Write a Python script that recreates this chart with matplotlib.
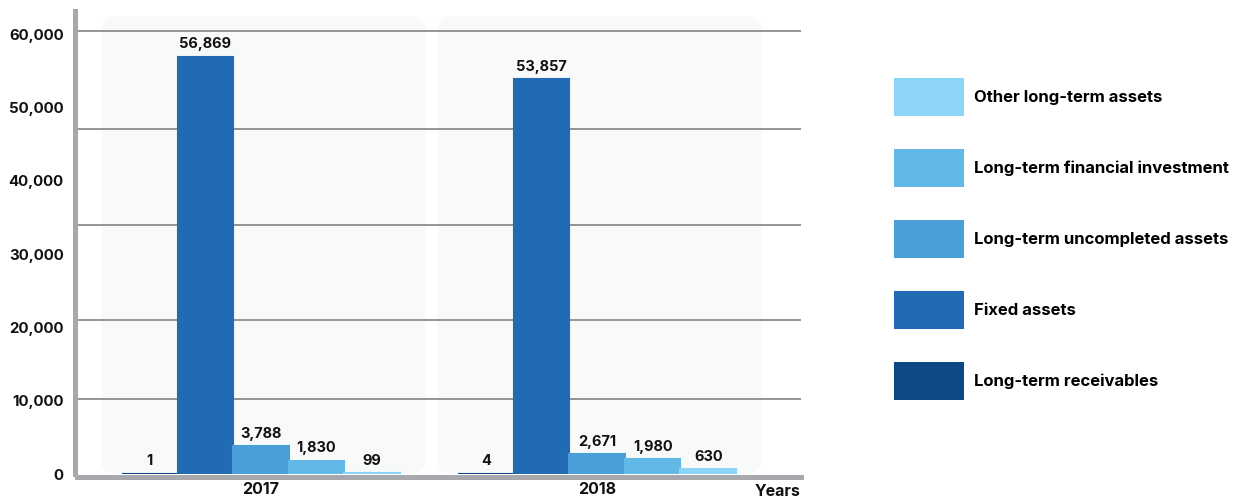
import matplotlib
matplotlib.use("Agg")
import matplotlib.pyplot as plt
from matplotlib.patches import FancyBboxPatch, Patch
from matplotlib.ticker import FuncFormatter

# ---- data -------------------------------------------------------------
years = ["2017", "2018"]
series_names = [
    "Long-term receivables",
    "Fixed assets",
    "Long-term uncompleted assets",
    "Long-term financial investment",
    "Other long-term assets",
]
receivables = [1, 4]
fixed_assets = [56869, 53857]
uncompleted_assets = [3788, 2671]
financial_investment = [1830, 1980]
other_assets = [99, 630]
y_ticks = [0, 10000, 20000, 30000, 40000, 50000, 60000]

# ---- style ------------------------------------------------------------
colors = ["#0e4887", "#216ab4", "#4b9fd8", "#62b8e7", "#8cd5f6"]
axis_grey = "#a7a8ab"
grid_grey = "#8d8d8d"
panel_color = "#f8f9f9"
text_color = "#111111"
font = ["Inter", "DejaVu Sans"]
plt.rcParams["font.family"] = font
plt.rcParams["font.weight"] = "bold"

W, H = 1242, 499
fig = plt.figure(figsize=(W / 100, H / 100), dpi=100)
ax = fig.add_axes([77.2 / W, (H - 474) / H, (801 - 77.2) / W, (474 - 11) / H])

series = [receivables, fixed_assets, uncompleted_assets, financial_investment, other_assets]
bar_w = 0.1655
n = len(series)
group_x = list(range(len(years)))

ax.set_xlim(-0.547, 1.607)
ax.set_ylim(0, 63150)

# rounded background panels behind each year group
fig.canvas.draw()
px_x = ax.transData.transform((1, 0))[0] - ax.transData.transform((0, 0))[0]
px_y = ax.transData.transform((0, 1))[1] - ax.transData.transform((0, 0))[1]
aspect = px_x / px_y
radius = 15 / px_x
for gx in group_x:
    left, right = gx - 0.475, gx + 0.49
    ax.add_patch(FancyBboxPatch((left, 0), right - left, 62400,
                                boxstyle=f"round,pad=0,rounding_size={radius}",
                                mutation_aspect=aspect, facecolor=panel_color,
                                edgecolor="none", zorder=0.5))

# decorative horizontal rules
for gy in [10200, 21000, 34000, 47000, 60400]:
    ax.axhline(gy, color=grid_grey, lw=1.3, zorder=1)

for i, (vals, color) in enumerate(zip(series, colors)):
    xs = [g + (i - (n - 1) / 2) * bar_w for g in group_x]
    ax.bar(xs, vals, width=bar_w, color=color, edgecolor=color,
           linewidth=1.5, zorder=2)
    for x, v in zip(xs, vals):
        ax.annotate(f"{v:,}", (x, v), xytext=(0, 4), textcoords="offset points",
                    ha="center", va="bottom", fontsize=10.5, fontweight="bold",
                    color=text_color, zorder=3)

# axes styling
for side in ["top", "right"]:
    ax.spines[side].set_visible(False)
for side in ["left", "bottom"]:
    sp = ax.spines[side]
    sp.set_color(axis_grey)
    sp.set_linewidth(3.6)
    sp.set_position(("outward", 1.8))
    sp.set_capstyle("projecting")
    sp.set_zorder(1.8)

ax.set_yticks(y_ticks)
ax.yaxis.set_major_formatter(FuncFormatter(lambda v, p: f"{int(v):,}"))
ax.set_xticks(group_x)
ax.set_xticklabels(years)
ax.tick_params(axis="y", length=0, pad=8, labelsize=10.8, labelcolor=text_color)
ax.tick_params(axis="x", length=0, pad=4, labelsize=11.5, labelcolor=text_color)
for lab in ax.get_xticklabels() + ax.get_yticklabels():
    lab.set_fontweight("bold")

fig.text(801 / W, 1 - 492 / H, "Years", ha="right", va="center",
         fontsize=11.5, fontweight="bold", color=text_color)

# legend, top entry is the last series
handles = [Patch(facecolor=c, edgecolor="none") for c in colors][::-1]
fs = 12
fs_px = fs * 100 / 72
hh = (38 / fs_px - 0.245) / 0.65
ax.legend(handles, series_names[::-1], loc="upper left",
          bbox_to_anchor=(894 / W, 1 - 78 / H), bbox_transform=fig.transFigure,
          frameon=False, borderpad=0, borderaxespad=0,
          handlelength=70 / fs_px, handleheight=hh,
          labelspacing=33 / fs_px, handletextpad=10 / fs_px,
          prop={"family": font, "weight": "bold", "size": fs})

fig.savefig("out.png", dpi=100)
